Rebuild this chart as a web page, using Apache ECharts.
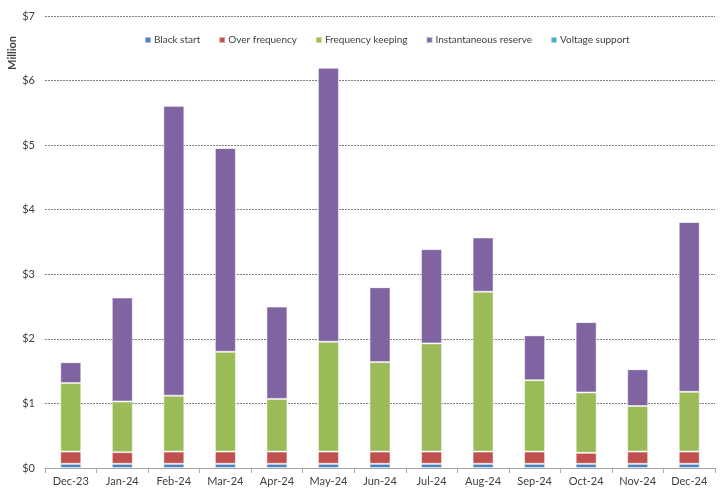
<!DOCTYPE html>
<html>
<head>
<meta charset="utf-8">
<script src="https://cdn.jsdelivr.net/npm/echarts@6/dist/echarts.min.js"></script>
<style>html,body{margin:0;padding:0;background:#fff}#c{width:720px;height:489px}</style>
</head>
<body>
<div id="c"></div>
<script>
var categories = ['Dec-23','Jan-24','Feb-24','Mar-24','Apr-24','May-24','Jun-24','Jul-24','Aug-24','Sep-24','Oct-24','Nov-24','Dec-24'];
var blackStart = [0.065,0.065,0.065,0.065,0.065,0.065,0.065,0.065,0.065,0.065,0.065,0.065,0.065];
var overFrequency = [0.19,0.18,0.19,0.19,0.19,0.19,0.19,0.19,0.19,0.19,0.17,0.19,0.19];
var frequencyKeeping = [1.06,0.785,0.865,1.545,0.815,1.70,1.385,1.675,2.475,1.105,0.935,0.705,0.925];
var instantaneousReserve = [0.324,1.61,4.49,3.155,1.43,4.245,1.16,1.46,0.84,0.695,1.09,0.57,2.63];
var voltageSupport = [0,0,0,0,0,0,0,0,0,0,0,0,0];
var yTicks = ['$0','$1','$2','$3','$4','$5','$6','$7'];

var font = 'Lato, "Open Sans", sans-serif';
function bar(name, data, color) {
  return {
    name: name, type: 'bar', stack: 'total', data: data, barWidth: 21,
    itemStyle: { color: color, borderColor: 'rgba(255,255,255,0.5)', borderWidth: 1 },
    emphasis: { disabled: true }
  };
}
var chart = echarts.init(document.getElementById('c'));
chart.setOption({
  animation: false,
  textStyle: { fontFamily: font },
  legend: {
    top: 30, left: 139, itemWidth: 6, itemHeight: 6, itemGap: 18, icon: 'rect',
    textStyle: { fontSize: 10, color: '#404040', fontFamily: font, padding: [0,0,0,-2] },
    data: ['Black start','Over frequency','Frequency keeping','Instantaneous reserve','Voltage support']
  },
  graphic: [{
    type: 'text', left: 7, top: 36, rotation: Math.PI / 2,
    style: { text: 'Million', font: 'bold 11px ' + font, fill: '#404040' }
  }],
  grid: { left: 45, right: 5, top: 16, bottom: 21 },
  xAxis: {
    type: 'category', data: categories, boundaryGap: true,
    axisLine: { lineStyle: { color: '#a6a6a6' } },
    axisTick: { show: true, length: 5, lineStyle: { color: '#a6a6a6' } },
    axisLabel: { fontSize: 11, color: '#404040', margin: 8, fontFamily: font }
  },
  yAxis: {
    type: 'value', min: 0, max: 7, interval: 1,
    axisLine: { show: false }, axisTick: { show: false },
    axisLabel: { fontSize: 11, color: '#404040', margin: 10, fontFamily: font,
      formatter: function (v) { return yTicks[Math.round(v)]; } },
    splitLine: { lineStyle: { color: '#7f7f7f', type: [2, 1], width: 1 } }
  },
  series: [
    bar('Black start', blackStart, '#4F81BD'),
    bar('Over frequency', overFrequency, '#C0504D'),
    bar('Frequency keeping', frequencyKeeping, '#9BBB59'),
    bar('Instantaneous reserve', instantaneousReserve, '#8064A2'),
    bar('Voltage support', voltageSupport, '#4BACC6')
  ]
});
</script>
</body>
</html>
